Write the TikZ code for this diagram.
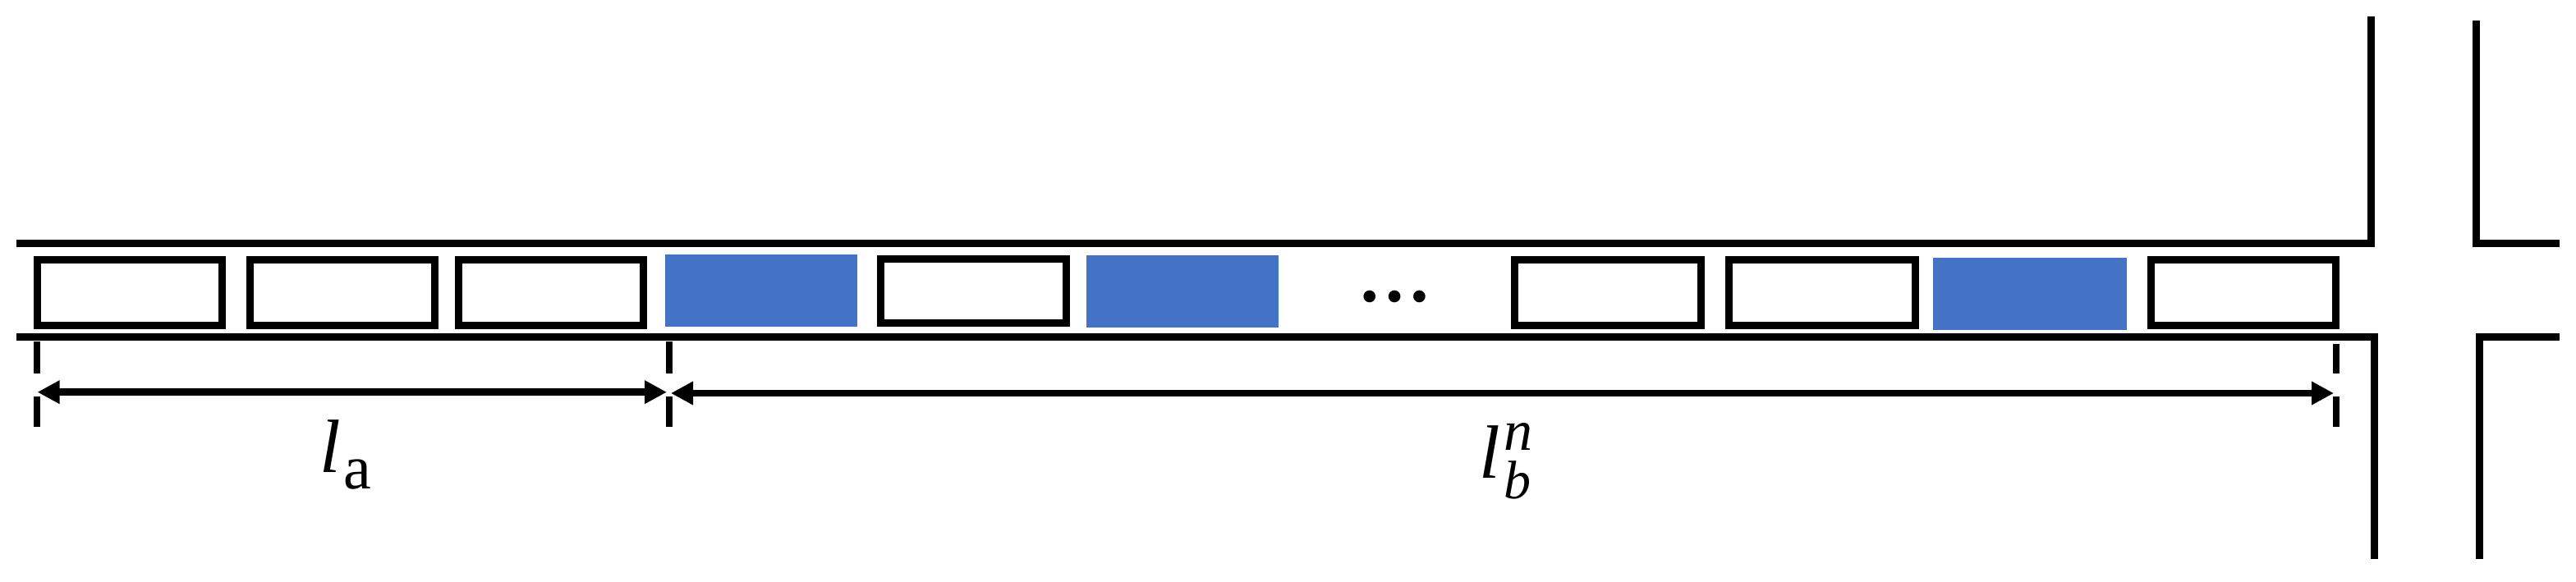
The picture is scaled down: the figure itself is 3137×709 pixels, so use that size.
\documentclass[tikz,border=0pt]{standalone}
\usepackage{fontspec}
\usetikzlibrary{arrows.meta}
\newfontfamily\lblfont{Liberation Serif}
\definecolor{cellblue}{HTML}{4472C4}
\tikzset{
  wall/.style={draw=black,line width=9pt,line join=miter},
  cellbox/.style={draw=black,line width=9pt,fill=white,inner sep=0pt,outer sep=0pt,minimum height=80pt,minimum width=225pt},
  cellfill/.style={fill=cellblue,draw=none,inner sep=0pt,outer sep=0pt,minimum height=88pt,minimum width=234pt},
  tick/.style={draw=black,line width=8pt},
  dim/.style={draw=black,line width=8.5pt,{Triangle[length=27pt,width=27pt]}-{Triangle[length=27pt,width=27pt]}},
  lbl/.style={inner sep=0pt,outer sep=0pt,anchor=base west,text=black}
}
\begin{document}
\begin{tikzpicture}[x=1pt,y=-1pt]
\useasboundingbox (0,0) rectangle (3137,709);
% road walls
\coordinate (tl) at (20,296.3);
\coordinate (tc) at (2887.3,296.3);
\coordinate (tu) at (2887.3,20);
\coordinate (bl) at (20,410);
\coordinate (bc) at (2891,410);
\coordinate (bd) at (2891,681);
\coordinate (ru) at (3015,25);
\coordinate (rc) at (3015,296.3);
\coordinate (re) at (3117,296.3);
\coordinate (rd) at (3019.7,681);
\coordinate (rb) at (3019.7,410);
\coordinate (rf) at (3117,410);
\draw[wall] (tl) -- (tc) -- (tu);
\draw[wall] (bl) -- (bc) -- (bd);
\draw[wall] (ru) -- (rc) -- (re);
\draw[wall] (rd) -- (rb) -- (rf);
% cells
\node[cellbox] (c1) at (157.8,356) {};
\node[cellbox] (c2) at (417,356) {};
\node[cellbox] (c3) at (670.7,356) {};
\node[cellfill] (b1) at (926.5,354.4) {};
\node[cellbox,minimum height=78.5pt,minimum width=226pt] (c4) at (1185.5,354.5) {};
\node[cellfill] (b2) at (1439.5,354.5) {};
\node[cellbox,minimum width=227pt] (c5) at (1958,356.2) {};
\node[cellbox,minimum width=227pt] (c6) at (2219,356.2) {};
\node[cellfill,minimum width=236pt] (b3) at (2472,357.7) {};
\node[cellbox] (c7) at (2732,356.3) {};
% dots
\node[inner sep=0pt,outer sep=0pt,anchor=base] (dots) at (1698,367) {\lblfont\bfseries\fontsize{90}{90}\selectfont …};
% dimension ticks
\coordinate (t1a) at (45,415.7);
\coordinate (t1b) at (45,455);
\coordinate (t1c) at (45,483);
\coordinate (t1d) at (45,520);
\coordinate (t2a) at (815,415.7);
\coordinate (t2b) at (815,455);
\coordinate (t2c) at (815,483);
\coordinate (t2d) at (815,520);
\coordinate (t3a) at (2844.6,418.5);
\coordinate (t3b) at (2844.6,455);
\coordinate (t3c) at (2844.6,483);
\coordinate (t3d) at (2844.6,520);
\foreach \n in {1,2,3}{
  \draw[tick] (t\n a) -- (t\n b);
  \draw[tick] (t\n c) -- (t\n d);
}
\coordinate (a1) at (45.6,477.7);
\coordinate (a2) at (812,477.7);
\coordinate (b1e) at (817,479);
\coordinate (b2e) at (2842,479);
\draw[dim] (a1) -- (a2);
\draw[dim] (b1e) -- (b2e);
% labels
\node[lbl] (la) at (389,575) {\lblfont\fontsize{92}{92}\selectfont\itshape l\kern4pt\raisebox{-20pt}{\fontsize{76}{76}\selectfont\upshape a}};
\node[lbl] (lb) at (1801,582) {\lblfont\fontsize{92}{92}\selectfont\itshape l\kern5pt\rlap{\raisebox{34pt}{\fontsize{70}{70}\selectfont n}}\raisebox{-25pt}{\fontsize{66}{66}\selectfont b}};
\end{tikzpicture}
\end{document}
